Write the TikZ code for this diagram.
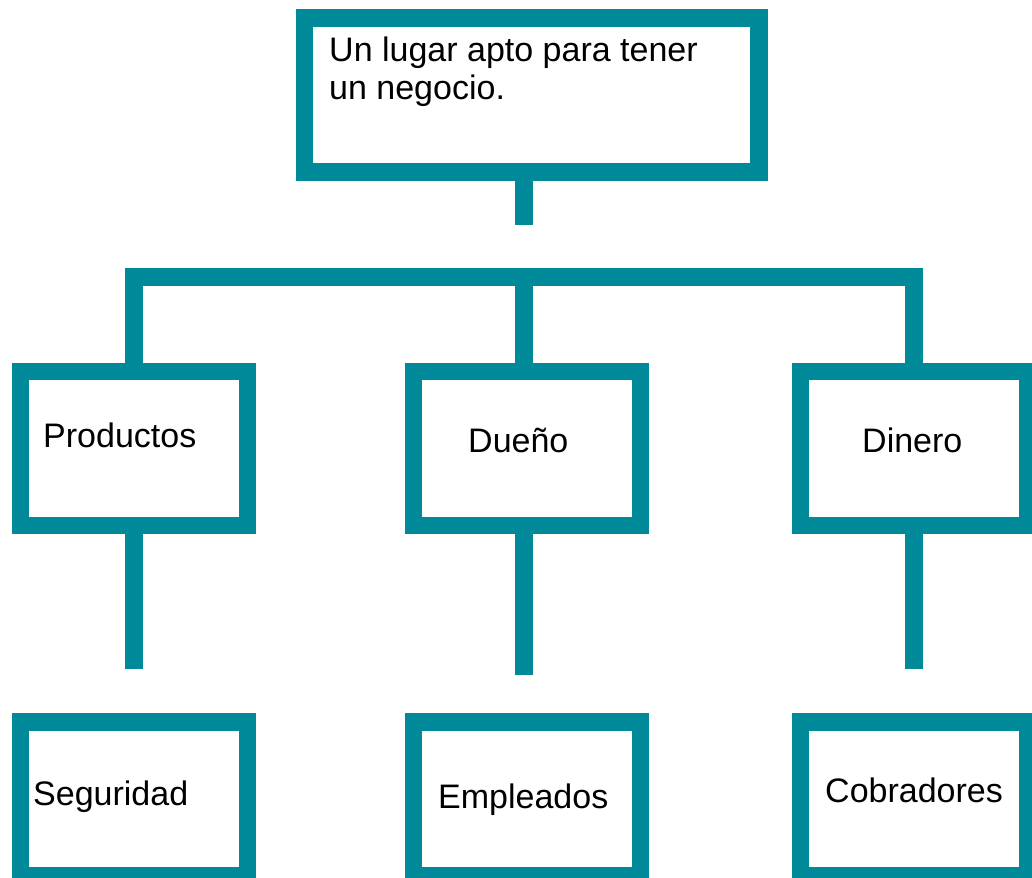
\documentclass[tikz,border=0pt]{standalone}
\usepackage{fontspec}
\setmainfont{Liberation Sans}
\definecolor{tealline}{RGB}{0,138,153}
\begin{document}
\begin{tikzpicture}[x=1pt, y=-1pt,
    box/.style={draw=tealline, line width=17.5pt, rectangle, minimum width=227pt, minimum height=154pt, inner sep=0pt},
    link/.style={draw=tealline, line width=17.5pt},
    lbl/.style={anchor=base west, inner sep=0pt, font=\fontsize{34}{38}\selectfont}]
    \useasboundingbox (0,0) rectangle (1032,877);

    \node[box, minimum width=454.5pt] (top) at (531.5,95) {};
    \node[box] (prod) at (134,448.5) {};
    \node[box] (duen) at (527,448.5) {};
    \node[box] (din) at (914,448.5) {};
    \node[box] (seg) at (134,799) {};
    \node[box] (emp) at (527,799) {};
    \node[box] (cob) at (914,799) {};

    \node[lbl, align=left] (toptxt) at (329,100) {Un lugar apto para tener\\un negocio.};
    \node[lbl] (prodtxt) at (43,447) {Productos};
    \node[lbl] (duentxt) at (468,452) {Dueño};
    \node[lbl] (dintxt) at (862,452) {Dinero};
    \node[lbl] (segtxt) at (33,805) {Seguridad};
    \node[lbl] (emptxt) at (438,808) {Empleados};
    \node[lbl] (cobtxt) at (825,802) {Cobradores};

    \coordinate (topend) at (524,225);
    \coordinate (barl) at (134,277);
    \coordinate (barr) at (914,277);
    \draw[link] (top.south -| topend) -- (topend);
    \draw[link] (prod.north) -- (barl) -- (barr) -- (din.north);
    \draw[link] (barl -| topend) -- (duen.north -| topend);

    \coordinate (prodend) at (134,669);
    \coordinate (duenend) at (524,675);
    \coordinate (dinend) at (914,669);
    \draw[link] (prod.south) -- (prodend);
    \draw[link] (duen.south -| duenend) -- (duenend);
    \draw[link] (din.south) -- (dinend);
\end{tikzpicture}
\end{document}
